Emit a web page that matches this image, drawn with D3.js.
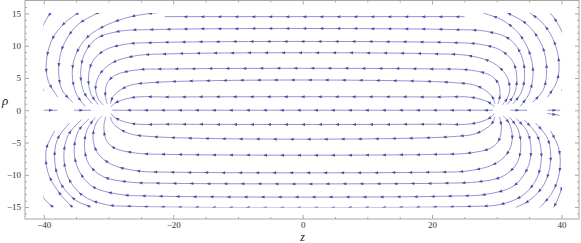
<!DOCTYPE html>
<html>
<head>
<meta charset="utf-8">
<script src="https://cdn.jsdelivr.net/npm/d3@7"></script>
<style>
  body { margin: 0; background: #fff; }
  text { font-family: "Liberation Serif", "DejaVu Serif", serif; }
</style>
</head>
<body>
<svg id="chart" width="581" height="243"></svg>
<script>
// streamlines, as [z, rho] points, in flow order
var axisLines = [
  [[29.4, 0], [-29.4, 0]],
  [[32.1, 0], [34.7, 0]],
  [[37.8, 0], [39.8, 0]],
  [[-40, 0], [-37.9, 0]],
  [[-35.3, 0], [-32.7, 0]]
];

var upperLines = [
  [[29.6, 0.5], [29, 1.1], [26.4, 1.95], [20, 2.05], [-20, 2.05], [-26.4, 1.95], [-29, 1.1], [-29.6, 0.5]],
  [[29.7, 1], [29.3, 2.1], [27.1, 3.7], [23, 4.3], [-23, 4.3], [-27.1, 3.7], [-29.3, 2.1], [-29.7, 1]],
  [[30.2, 1], [30.5, 2.4], [30.2, 4.2], [29, 5.4], [26, 6.2], [20, 6.4], [-20, 6.4], [-26, 6.2], [-29, 5.4], [-30.2, 4.2], [-30.5, 2.4], [-30.2, 1]],
  [[30.8, 0.8], [31.6, 1.8], [32, 3.5], [31.4, 5.5], [29.5, 7.3], [26, 8.4], [20, 8.75], [-20, 8.75], [-26, 8.4], [-29.5, 7.3], [-31.4, 5.5], [-32, 3.5], [-31.6, 1.8], [-30.8, 0.8]],
  [[31.6, 0.9], [32.7, 2.5], [33.1, 5], [32.5, 7.5], [30.6, 9.3], [27.5, 10.2], [22, 10.5], [-22, 10.5], [-27.5, 10.2], [-30.6, 9.3], [-32.5, 7.5], [-33.1, 5], [-32.7, 2.5], [-31.6, 0.9]],
  [[32.5, 1], [33.8, 2.8], [34.3, 5.5], [33.8, 8.5], [32, 11], [28.5, 12.2], [23, 12.5], [-23, 12.5], [-28.5, 12.2], [-32, 11], [-33.8, 8.5], [-34.3, 5.5], [-33.8, 2.8], [-32.5, 1]],
  [[25, 14.5], [-21.3, 14.5]]
];

var lowerLines = [
  [[29.6, -0.5], [29, -1.15], [26.4, -2.05], [20, -2.16], [-20, -2.16], [-26.4, -2.05], [-29, -1.15], [-29.6, -0.5]],
  [[29.7, -1], [29.3, -2.0], [27.1, -3.5], [23, -4.1], [-23, -4.1], [-27.1, -3.5], [-29.3, -2.0], [-29.7, -1]],
  [[30.4, -1], [30.7, -2.4], [30.4, -4.5], [29.2, -5.8], [26, -6.6], [20, -6.85], [-20, -6.85], [-26, -6.6], [-29.2, -5.8], [-30.4, -4.5], [-30.7, -2.4], [-30.4, -1]],
  [[31, -0.9], [31.9, -2], [32.4, -4.2], [31.7, -6.6], [29.5, -8.4], [25.5, -9.4], [20, -9.6], [-20, -9.6], [-25.5, -9.4], [-29.5, -8.4], [-31.7, -6.6], [-32.4, -4.2], [-31.9, -2], [-31, -0.9]],
  [[32, -1.1], [33.3, -3], [33.7, -5.8], [33, -8.4], [30.8, -10.3], [27, -11.1], [22, -11.3], [-22, -11.3], [-27, -11.1], [-30.8, -10.3], [-33, -8.4], [-33.7, -5.8], [-33.3, -3], [-32, -1.1]],
  [[33, -1.3], [34.7, -3.3], [35.3, -6.3], [34.6, -9.3], [32.5, -11.8], [28.5, -13], [23, -13.3], [-23, -13.3], [-28.5, -13], [-32.5, -11.8], [-34.6, -9.3], [-35.3, -6.3], [-34.7, -3.3], [-33, -1.3]],
  [[34.2, -1.5], [36.2, -3.8], [36.9, -7], [36.2, -10.5], [34, -13.2], [30.5, -14.6], [26, -14.9], [-26, -14.9], [-30.5, -14.6], [-34, -13.2], [-36.2, -10.5], [-36.9, -7], [-36.2, -3.8], [-34.2, -1.5]]
];

// loops that leave the plot range near the corners
var rightArcs = [
  [[33.6, 0.6], [35, 2.6], [35.6, 5.7], [35.1, 8.8], [33.4, 11.9], [30.8, 14], [28.1, 15], [27, 15.4]],
  [[35.5, 1.2], [37.2, 3.2], [37.7, 6.5], [37, 10], [34.8, 13.2], [31.8, 15], [30.8, 15.5]],
  [[37.8, 2], [39.3, 4.5], [39.6, 7.5], [38.7, 11], [37, 13.6], [35.2, 15], [34.4, 15.5]],
  [[40, 3], [41, 6], [40.8, 10], [39.7, 12.9], [38.3, 15], [37.6, 15.6]],
  [[36, -2], [37.9, -4.5], [38.3, -8], [37.3, -11.5], [35, -14], [33.1, -15], [32.3, -15.5]],
  [[38.3, -3.2], [39.6, -6], [39.7, -9.5], [38.7, -12.5], [36.7, -15], [36, -15.5]],
  [[40.5, -6], [40.6, -9.5], [39.9, -12.5], [38.8, -15], [38.3, -15.5]],
  [[37.8, -0.5], [39.7, -0.8]]
];

var leftArcs = [
  [[-22.5, 15.1], [-26.5, 14.5], [-30.3, 13.2], [-33.3, 11.3], [-35.1, 8.5], [-35.6, 5.7], [-35, 2.6], [-33.6, 0.6]],
  [[-30.8, 15.5], [-31.8, 15], [-34.8, 13.2], [-37, 10], [-37.7, 6.5], [-37.2, 3.2], [-35.5, 1.2]],
  [[-34, 15.5], [-34.8, 15], [-36.8, 13.5], [-38.7, 11], [-39.6, 7.5], [-39.3, 4.5], [-37.8, 2]],
  [[-38.4, 15.6], [-39, 15], [-40.2, 12.9], [-41, 10], [-41, 6], [-40, 3]],
  [[-32.3, -15.5], [-32.8, -15], [-35, -14], [-37.3, -11.5], [-38.3, -8], [-37.9, -4.5], [-36, -2]],
  [[-35, -15.5], [-35.6, -15], [-37.9, -12.4], [-39.4, -9.5], [-39.6, -6], [-38.3, -3.2]],
  [[-38, -15.5], [-38.6, -15], [-40.1, -13.4], [-40.6, -9.5], [-40.5, -6]]
];

var zMajor = [-40, -20, 0, 20, 40];
var zMinor = [-35, -30, -25, -15, -10, -5, 5, 10, 15, 25, 30, 35];
var rhoMajor = [-15, -10, -5, 0, 5, 10, 15];
var rhoMinor = d3.range(-16, 17).filter(function (d) { return d % 5 !== 0; });
var plotRange = { z: [-40, 40], rho: [-15, 15] };

var svg = d3.select("#chart");
var plotLeft = 25, plotRight = 579, plotTop = 0.5, plotBottom = 219;

var x = d3.scaleLinear().domain([-42.9, 42.7]).range([plotLeft, plotRight]);
var y = d3.scaleLinear().domain([-16.85, 17]).range([plotBottom, plotTop]);

// streamlines are only drawn inside the plot range, the frame adds padding
svg.append("defs").append("clipPath").attr("id", "rangeclip")
  .append("rect")
  .attr("x", x(plotRange.z[0]) - 0.5).attr("y", y(plotRange.rho[1]) - 0.5)
  .attr("width", x(plotRange.z[1]) - x(plotRange.z[0]) + 1)
  .attr("height", y(plotRange.rho[0]) - y(plotRange.rho[1]) + 1);

var frameColor = "#a8a8a8";

function styleAxis(g) {
  g.select(".domain").remove();
  g.selectAll(".tick line").attr("stroke", frameColor);
  g.selectAll(".tick text").attr("fill", "#333").style("font-size", "9px")
    .style("font-family", "'Liberation Serif', serif");
}
function fmt(d) { return d < 0 ? "\u2212" + Math.abs(d) : String(d); }

// bottom
svg.append("g").attr("transform", "translate(0," + plotBottom + ")")
  .call(d3.axisBottom(x).tickValues(zMajor).tickSizeInner(-4).tickSizeOuter(0).tickPadding(3).tickFormat(fmt))
  .call(styleAxis);
svg.append("g").attr("transform", "translate(0," + plotBottom + ")")
  .call(d3.axisBottom(x).tickValues(zMinor).tickSizeInner(-2).tickSizeOuter(0).tickFormat(""))
  .call(styleAxis);
// top
svg.append("g").attr("transform", "translate(0," + plotTop + ")")
  .call(d3.axisTop(x).tickValues(zMajor).tickSizeInner(-4).tickSizeOuter(0).tickFormat(""))
  .call(styleAxis);
svg.append("g").attr("transform", "translate(0," + plotTop + ")")
  .call(d3.axisTop(x).tickValues(zMinor).tickSizeInner(-2).tickSizeOuter(0).tickFormat(""))
  .call(styleAxis);
// left
svg.append("g").attr("transform", "translate(" + plotLeft + ",0)")
  .call(d3.axisLeft(y).tickValues(rhoMajor).tickSizeInner(-4).tickSizeOuter(0).tickPadding(4).tickFormat(fmt))
  .call(styleAxis);
svg.append("g").attr("transform", "translate(" + plotLeft + ",0)")
  .call(d3.axisLeft(y).tickValues(rhoMinor).tickSizeInner(-2).tickSizeOuter(0).tickFormat(""))
  .call(styleAxis);
// right
svg.append("g").attr("transform", "translate(" + plotRight + ",0)")
  .call(d3.axisRight(y).tickValues(rhoMajor).tickSizeInner(-4).tickSizeOuter(0).tickFormat(""))
  .call(styleAxis);
svg.append("g").attr("transform", "translate(" + plotRight + ",0)")
  .call(d3.axisRight(y).tickValues(rhoMinor).tickSizeInner(-2).tickSizeOuter(0).tickFormat(""))
  .call(styleAxis);

svg.append("rect")
  .attr("x", plotLeft).attr("y", plotTop)
  .attr("width", plotRight - plotLeft).attr("height", plotBottom - plotTop)
  .attr("fill", "none").attr("stroke", frameColor).attr("stroke-width", 1);

// streamlines
var line = d3.line()
  .x(function (d) { return x(d[0]); })
  .y(function (d) { return y(d[1]); })
  .curve(d3.curveCatmullRom.alpha(0.5));

var allLines = axisLines.concat(upperLines, lowerLines, rightArcs, leftArcs);
var plot = svg.append("g").attr("clip-path", "url(#rangeclip)");

var paths = plot.selectAll("path.stream")
  .data(allLines)
  .join("path")
  .attr("class", "stream")
  .attr("d", line)
  .attr("fill", "none")
  .attr("stroke", "#7f7fcb")
  .attr("stroke-width", 0.85);

// arrowheads along each line
var step = 17, headLen = 3.8, headW = 1.5;
paths.each(function () {
  var node = this, total = node.getTotalLength();
  for (var s = 9; s < total - 2; s += step) {
    var p = node.getPointAtLength(s), q = node.getPointAtLength(Math.max(0, s - headLen));
    var dx = p.x - q.x, dy = p.y - q.y, len = Math.sqrt(dx * dx + dy * dy) || 1;
    var ux = dx / len, uy = dy / len;
    var bx = p.x - ux * headLen, by = p.y - uy * headLen;
    plot.append("path")
      .attr("d", "M" + p.x + "," + p.y + "L" + (bx - uy * headW) + "," + (by + ux * headW) +
        "L" + (bx + uy * headW) + "," + (by - ux * headW) + "Z")
      .attr("fill", "#4d4da8");
  }
});

// axis titles
svg.append("text").attr("x", 5).attr("y", 105).attr("text-anchor", "middle")
  .style("font-size", "13px").style("font-style", "italic").attr("fill", "#222").text("\u03c1");
svg.append("text").attr("x", 302.5).attr("y", 241).attr("text-anchor", "middle")
  .style("font-size", "12px").style("font-style", "italic").attr("fill", "#222").text("z");
</script>
</body>
</html>
